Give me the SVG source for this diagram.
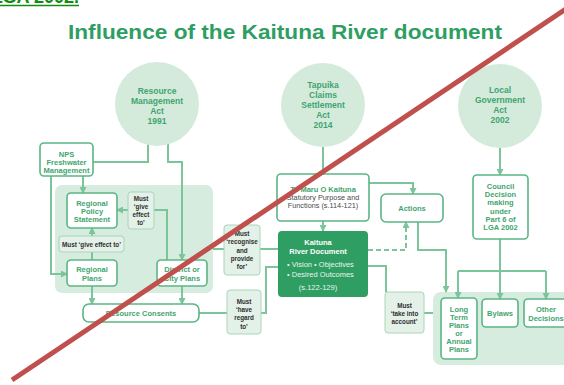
<svg xmlns="http://www.w3.org/2000/svg" width="564" height="385" viewBox="0 0 564 385">
<style>
text{font-family:"Liberation Sans",Arial,sans-serif;font-weight:bold;text-anchor:middle}
.circ{fill:#d4ebdc}
.box{fill:#ffffff;stroke:#5cb585;stroke-width:1.6}
.must{fill:#e3f1e8;stroke:#a9d6ba;stroke-width:1}
.pnl{fill:#d6ecde}
.g{fill:#3fa56e;font-size:7.5px}
.gc{fill:#3fa56e;font-size:8.5px}
.k{fill:#2e2e2e;font-size:6.3px}
.w{fill:#ffffff;font-size:7.5px}
.wl{fill:#e6f5ec;font-size:7.5px;font-weight:normal}
.ln{fill:none;stroke:#7cc49a;stroke-width:2}
.ar{marker-end:url(#ah)}
.dash{stroke-dasharray:5 3}
</style>
<defs>
<marker id="ah" markerUnits="userSpaceOnUse" markerWidth="7" markerHeight="7" refX="6" refY="3.5" orient="auto">
<path d="M0,0 L7,3.5 L0,7 z" fill="#7cc49a"/>
</marker>
</defs>
<rect width="564" height="385" fill="#ffffff"/>

<g id="heading">
<text x="79" y="3" style="text-anchor:end;font-size:18px;fill:#138a13">LGA 2002.</text>
<line x1="0" y1="5.5" x2="79" y2="5.5" stroke="#138a13" stroke-width="1.5"/>
</g>
<g id="title">
<text x="68" y="39" style="text-anchor:start;font-size:20px;fill:#2e9e62" textLength="434" lengthAdjust="spacingAndGlyphs">Influence of the Kaituna River document</text>
</g>

<g id="panels">
<rect class="pnl" x="55" y="185" width="158" height="108" rx="7"/>
<rect class="pnl" x="433" y="292" width="140" height="73" rx="8"/>
</g>

<g id="connectors">
<path class="ln" d="M148,144 V162 H93"/>
<path class="ln ar" d="M168,144 V162 H182 V260"/>
<path class="ln ar" d="M83,176 V193"/>
<path class="ln ar" d="M51,176 V274 H67"/>
<path class="ln" d="M167,260 V210 H154"/>
<path class="ln ar" d="M128,210 H117"/>
<path class="ln" d="M92,260 V252"/>
<path class="ln ar" d="M92,236 V228"/>
<path class="ln ar" d="M92,286 V304"/>
<path class="ln ar" d="M182,286 V304"/>
<path class="ln" d="M199,313 H227"/>
<path class="ln" d="M261,313 H266 V267 H278"/>
<path class="ln" d="M213,249 H224"/>
<path class="ln" d="M260,249 H278"/>
<path class="ln" d="M323,147 V174"/>
<path class="ln ar" d="M323,221 V231"/>
<path class="ln ar" d="M369,183 H413 V194"/>
<path class="ln ar dash" d="M368,250 H406 V222"/>
<path class="ln ar" d="M418,222 V250 H446 V292"/>
<path class="ln" d="M368,266 H386 V292"/>
<path class="ln" d="M424,313 H433"/>
<path class="ln ar" d="M500,148 V175"/>
<path class="ln ar" d="M500,239 V299"/>
<path class="ln" d="M458,271 H546"/>
<path class="ln ar" d="M458,271 V298"/>
<path class="ln ar" d="M546,271 V299"/>
</g>

<g id="rma">
<circle class="circ" cx="157" cy="104" r="42"/>
<text class="gc" x="157" y="94">Resource</text>
<text class="gc" x="157" y="104">Management</text>
<text class="gc" x="157" y="114">Act</text>
<text class="gc" x="157" y="124">1991</text>
</g>
<g id="tapuika">
<circle class="circ" cx="323" cy="105" r="42"/>
<text class="gc" x="323" y="88">Tapuika</text>
<text class="gc" x="323" y="98">Claims</text>
<text class="gc" x="323" y="108">Settlement</text>
<text class="gc" x="323" y="118">Act</text>
<text class="gc" x="323" y="128">2014</text>
</g>
<g id="lga">
<circle class="circ" cx="500" cy="106" r="42"/>
<text class="gc" x="500" y="93">Local</text>
<text class="gc" x="500" y="103">Government</text>
<text class="gc" x="500" y="113">Act</text>
<text class="gc" x="500" y="123">2002</text>
</g>

<g id="nps">
<rect class="box" x="40" y="143" width="53" height="33" rx="4"/>
<text class="g" x="66.5" y="157">NPS</text>
<text class="g" x="66.5" y="165">Freshwater</text>
<text class="g" x="66.5" y="173">Management</text>
</g>
<g id="rps">
<rect class="box" x="67" y="193" width="50" height="35" rx="4"/>
<text class="g" x="92" y="206">Regional</text>
<text class="g" x="92" y="214">Policy</text>
<text class="g" x="92" y="222">Statement</text>
</g>
<g id="must-give-effect-v">
<rect class="must" x="128" y="192" width="26" height="37" rx="3"/>
<text class="k" x="141" y="201">Must</text>
<text class="k" x="141" y="209">‘give</text>
<text class="k" x="141" y="217">effect</text>
<text class="k" x="141" y="225">to’</text>
</g>
<g id="must-give-effect-h">
<rect class="must" x="59" y="236" width="65" height="16" rx="3"/>
<text class="k" x="91.5" y="246.5">Must ‘give effect to’</text>
</g>
<g id="regional-plans">
<rect class="box" x="67" y="260" width="50" height="26" rx="4"/>
<text class="g" x="92" y="272">Regional</text>
<text class="g" x="92" y="281">Plans</text>
</g>
<g id="district-plans">
<rect class="box" x="157" y="260" width="50" height="26" rx="4"/>
<text class="g" x="182" y="272">District or</text>
<text class="g" x="182" y="281">City Plans</text>
</g>
<g id="resource-consents">
<rect class="box" x="83" y="304" width="116" height="18" rx="6"/>
<text class="g" x="141" y="316">Resource Consents</text>
</g>
<g id="must-recognise">
<rect class="must" x="224" y="225" width="36" height="50" rx="3"/>
<text class="k" x="242" y="236">Must</text>
<text class="k" x="242" y="244">‘recognise</text>
<text class="k" x="242" y="253">and</text>
<text class="k" x="242" y="261">provide</text>
<text class="k" x="242" y="269">for’</text>
</g>
<g id="must-have-regard">
<rect class="must" x="227" y="290" width="34" height="44" rx="3"/>
<text class="k" x="244" y="304">Must</text>
<text class="k" x="244" y="312">‘have</text>
<text class="k" x="244" y="320">regard</text>
<text class="k" x="244" y="329">to’</text>
</g>
<g id="te-maru">
<rect class="box" x="277" y="174" width="92" height="47" rx="4"/>
<text class="g" x="323" y="192">Te Maru O Kaituna</text>
<text x="323" y="200" style="fill:#4a4a4a;font-size:7.3px;font-weight:normal">Statutory Purpose and</text>
<text x="323" y="208" style="fill:#4a4a4a;font-size:7.3px;font-weight:normal">Functions (s.114-121)</text>
</g>
<g id="kaituna-doc">
<rect x="278" y="231" width="90" height="66" rx="4" fill="#2f9e63"/>
<text class="w" x="318" y="245">Kaituna</text>
<text class="w" x="318" y="254">River Document</text>
<text class="wl" x="287" y="267" style="text-anchor:start">• Vision   • Objectives</text>
<text class="wl" x="287" y="277" style="text-anchor:start">• Desired Outcomes</text>
<text class="wl" x="318" y="290">(s.122-129)</text>
</g>
<g id="actions">
<rect class="box" x="381" y="194" width="62" height="28" rx="5"/>
<text class="g" x="412" y="211">Actions</text>
</g>
<g id="must-take-account">
<rect class="must" x="385" y="292" width="39" height="41" rx="3"/>
<text class="k" x="404.5" y="308">Must</text>
<text class="k" x="404.5" y="316">‘take into</text>
<text class="k" x="404.5" y="324">account’</text>
</g>
<g id="council">
<rect class="box" x="473" y="175" width="55" height="64" rx="4"/>
<text class="g" x="500.5" y="189">Council</text>
<text class="g" x="500.5" y="197">Decision</text>
<text class="g" x="500.5" y="205">making</text>
<text class="g" x="500.5" y="214">under</text>
<text class="g" x="500.5" y="222">Part 6 of</text>
<text class="g" x="500.5" y="230">LGA 2002</text>
</g>
<g id="ltp">
<rect class="box" x="441" y="298" width="36" height="61" rx="4"/>
<text class="g" x="459" y="312">Long</text>
<text class="g" x="459" y="320">Term</text>
<text class="g" x="459" y="328">Plans</text>
<text class="g" x="459" y="336">or</text>
<text class="g" x="459" y="344">Annual</text>
<text class="g" x="459" y="352">Plans</text>
</g>
<g id="bylaws">
<rect class="box" x="482" y="299" width="36" height="28" rx="4"/>
<text class="g" x="500" y="316">Bylaws</text>
</g>
<g id="other">
<rect class="box" x="524" y="299" width="44" height="28" rx="4"/>
<text class="g" x="546" y="312">Other</text>
<text class="g" x="546" y="321">Decisions</text>
</g>

<g id="strike">
<line x1="12" y1="380" x2="566" y2="9" stroke="#c0504d" stroke-width="5"/>
</g>
</svg>
